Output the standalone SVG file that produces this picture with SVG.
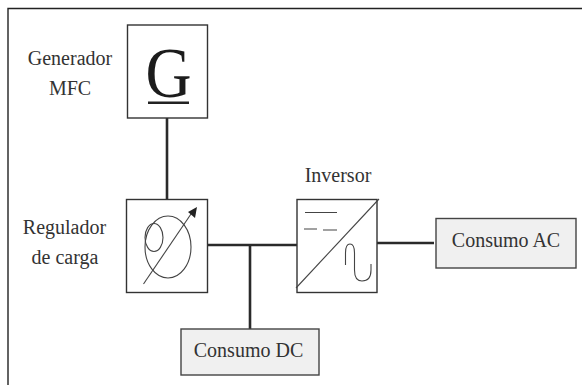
<svg xmlns="http://www.w3.org/2000/svg" width="582" height="385" viewBox="0 0 582 385">
<style>
text{font-family:"Liberation Serif","Times New Roman",serif;font-size:20px;fill:#333;text-anchor:middle}
.box{fill:#fff;stroke:#333;stroke-width:1.4}
.load{fill:#f0f0f0;stroke:#444;stroke-width:1.4}
.sym{fill:none;stroke:#444;stroke-width:1.1}
.wire{fill:none;stroke:#2a2a2a;stroke-width:2.6}
</style>
<rect x="0" y="0" width="582" height="385" fill="#fff"/>
<path d="M8 385V8.500H582" fill="none" stroke="#222" stroke-width="1.4"/>
<g id="connectors">
<path class="wire" d="M167 118V199"/>
<path class="wire" d="M207 245H297"/>
<path class="wire" d="M250 245V329"/>
<path class="wire" d="M377 243H434"/>
</g>
<g id="generador">
<rect class="box" x="127.500" y="25" width="80" height="93"/>
<text x="168.500" y="97" textLength="46" lengthAdjust="spacingAndGlyphs" style="font-size:72px;fill:#1c1c1c">G</text>
<rect x="148" y="101.500" width="41" height="2.500" fill="#222"/>
<text x="70" y="65">Generador</text>
<text x="70" y="95">MFC</text>
</g>
<g id="regulador">
<rect class="box" x="126.500" y="199.500" width="81" height="93"/>
<ellipse class="sym" cx="168" cy="247" rx="23" ry="31"/>
<ellipse class="sym" cx="154" cy="237.500" rx="9" ry="14"/>
<path class="sym" d="M143.500 284L191 214"/>
<path d="M197 207L188 212L195 218Z" fill="#222"/>
<text x="64.500" y="234">Regulador</text>
<text x="65" y="264">de carga</text>
</g>
<g id="inversor">
<rect class="box" x="297" y="199.500" width="80" height="93"/>
<path class="sym" d="M296 288L379 199"/>
<path class="sym" d="M305 212.500H337M304 229H317M323 230H337"/>
<path class="sym" d="M345.500 265V253Q345.500 244 350 244Q354.500 244 354.500 253V270Q354.500 281 362 281Q371 281 371 270V264"/>
<text x="338" y="182">Inversor</text>
</g>
<g id="consumo-ac">
<rect class="load" x="436" y="218.500" width="140" height="49.500"/>
<text x="506" y="247">Consumo AC</text>
</g>
<g id="consumo-dc">
<rect class="load" x="181" y="329" width="138" height="46"/>
<text x="248.500" y="357">Consumo DC</text>
</g>
</svg>
